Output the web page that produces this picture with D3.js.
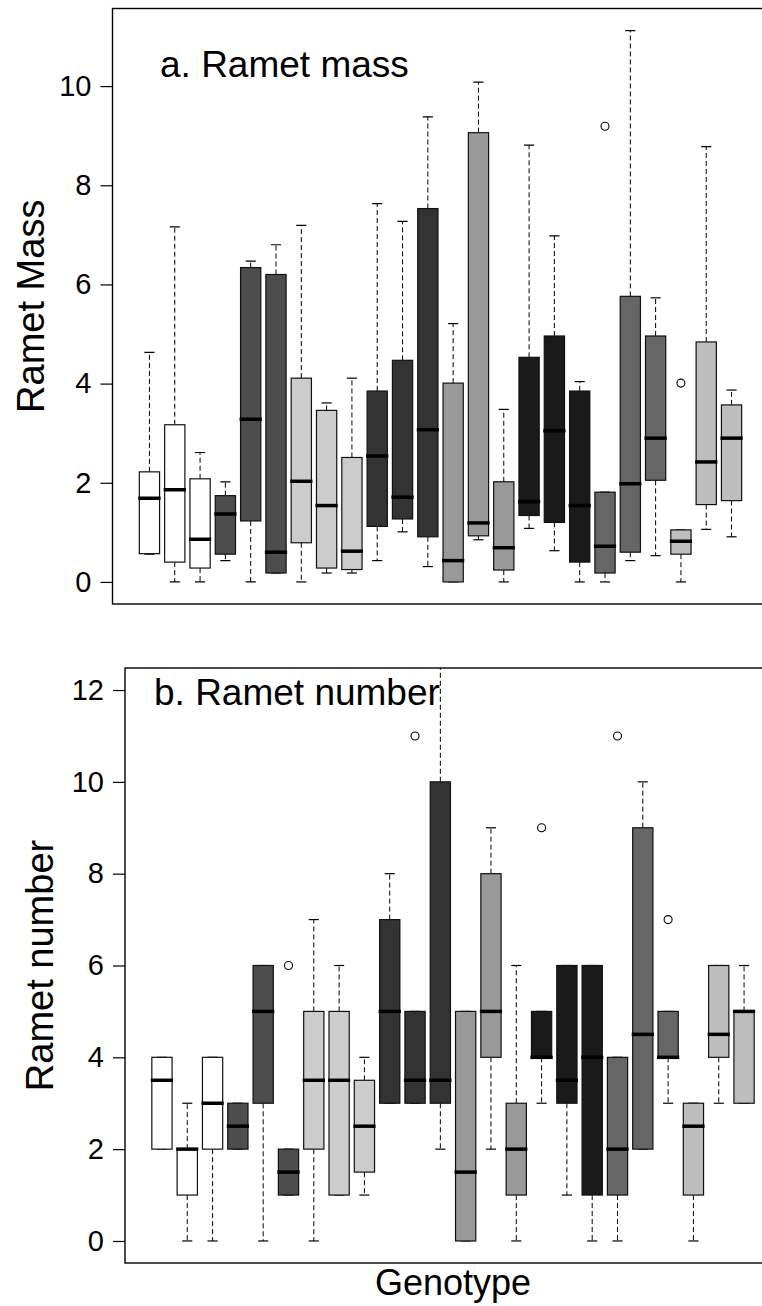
<!DOCTYPE html>
<html>
<head>
<meta charset="utf-8">
<script src="https://cdn.jsdelivr.net/npm/d3@7"></script>
<style>
  html, body { margin: 0; padding: 0; background: #fff; }
  svg { display: block; font-family: "Liberation Sans", Arial, sans-serif; }
</style>
</head>
<body>
<svg id="chart" width="762" height="1306"></svg>
<script>
// ---------- data ----------
const genotypes = d3.range(1, 25);
const fills = ["#ffffff","#ffffff","#ffffff","#4d4d4d","#4d4d4d","#4d4d4d",
               "#cccccc","#cccccc","#cccccc","#333333","#333333","#333333",
               "#999999","#999999","#999999","#1a1a1a","#1a1a1a","#1a1a1a",
               "#666666","#666666","#666666","#bebebe","#bebebe","#bebebe"];

// Panel a: Ramet mass
const massLow  = [0.56,0,0,0.43,0,0.18,0,0.18,0.18,0.43,1.01,0.31,0,0.85,0,1.08,0.63,0,0,0.43,0.53,0,1.06,0.91];
const massQ1   = [0.57,0.40,0.28,0.56,1.23,0.18,0.79,0.28,0.25,1.12,1.27,0.91,0,0.93,0.24,1.34,1.20,0.40,0.18,0.60,2.05,0.56,1.56,1.64];
const massMed  = [1.69,1.86,0.86,1.37,3.28,0.60,2.03,1.54,0.62,2.54,1.71,3.07,0.43,1.19,0.69,1.62,3.05,1.54,0.72,1.98,2.90,0.82,2.42,2.90];
const massQ3   = [2.22,3.17,2.08,1.74,6.34,6.20,4.11,3.46,2.51,3.85,4.47,7.53,4.01,9.06,2.02,4.53,4.96,3.85,1.81,5.76,4.96,1.05,4.84,3.57];
const massHigh = [4.63,7.16,2.61,2.02,6.47,6.80,7.19,3.61,4.11,7.63,7.27,9.38,5.21,10.08,3.48,8.81,6.98,4.04,1.81,11.12,5.73,1.05,8.78,3.87];
const massOutG = [19, 22];
const massOutV = [9.19, 4.01];
const massTicks = [0, 2, 4, 6, 8, 10];

// Panel b: Ramet number
const numLow  = [2,0,0,2,0,1,0,1,1,3,3,2,0,2,0,3,1,0,0,2,3,0,3,3];
const numQ1   = [2,1,2,2,3,1,2,1,1.5,3,3,3,0,4,1,4,3,1,1,2,4,1,4,3];
const numMed  = [3.5,2,3,2.5,5,1.5,3.5,3.5,2.5,5,3.5,3.5,1.5,5,2,4,3.5,4,2,4.5,4,2.5,4.5,5];
const numQ3   = [4,2,4,3,6,2,5,5,3.5,7,5,10,5,8,3,5,6,6,4,9,5,3,6,5];
const numHigh = [4,3,4,3,6,2,7,6,4,8,5,13,5,9,6,5,6,6,4,10,5,3,6,6];
const numOutG = [6, 11, 16, 19, 21];
const numOutV = [6, 11, 9, 11, 7];
const numTicks = [0, 2, 4, 6, 8, 10, 12];

// ---------- drawing ----------
const svg = d3.select("#chart");

function panel(cfg) {
  const { id, left, right, top, bottom, yDom, low, q1, med, q3, high, outG, outV, ticks,
          title, titleX, titleY, ylab, ylabX } = cfg;
  const n = genotypes.length;
  const pad = 0.04 * n;
  const x = d3.scaleLinear().domain([0.5 - pad, n + 0.5 + pad]).range([left, right]);
  const y = d3.scaleLinear().domain(yDom).range([bottom, top]);
  const bw = (x(1.8) - x(1)) ;       // box width 0.8 units
  const sw = bw / 2;                  // staple width

  const g = svg.append("g");
  svg.append("defs").append("clipPath").attr("id", "clip-" + id)
    .append("rect").attr("x", left).attr("y", top).attr("width", right - left).attr("height", bottom - top);

  const plot = g.append("g").attr("clip-path", `url(#clip-${id})`);

  genotypes.forEach((gt, i) => {
    const cx = x(gt);
    const gg = plot.append("g");
    // whiskers
    if (high[i] > q3[i]) {
      gg.append("line").attr("x1", cx).attr("x2", cx).attr("y1", y(q3[i])).attr("y2", y(high[i]))
        .attr("stroke", "#000").attr("stroke-width", 1).attr("stroke-dasharray", "5,3");
    }
    if (low[i] < q1[i]) {
      gg.append("line").attr("x1", cx).attr("x2", cx).attr("y1", y(q1[i])).attr("y2", y(low[i]))
        .attr("stroke", "#000").attr("stroke-width", 1).attr("stroke-dasharray", "5,3");
    }
    // staples
    [high[i], low[i]].forEach(v => {
      gg.append("line").attr("x1", cx - sw / 2).attr("x2", cx + sw / 2).attr("y1", y(v)).attr("y2", y(v))
        .attr("stroke", "#000").attr("stroke-width", 1.2);
    });
    // box
    gg.append("rect").attr("x", cx - bw / 2).attr("width", bw)
      .attr("y", y(q3[i])).attr("height", Math.max(0.5, y(q1[i]) - y(q3[i])))
      .attr("fill", fills[i]).attr("stroke", "#111").attr("stroke-width", 1.2);
    // median
    gg.append("line").attr("x1", cx - bw / 2 - 1).attr("x2", cx + bw / 2 + 1)
      .attr("y1", y(med[i])).attr("y2", y(med[i]))
      .attr("stroke", "#000").attr("stroke-width", 3.5);
  });

  // outliers
  plot.selectAll("circle.out").data(outG.map((gt, k) => ({ gt, v: outV[k] })))
    .enter().append("circle").attr("class", "out")
    .attr("cx", d => x(d.gt)).attr("cy", d => y(d.v)).attr("r", 4)
    .attr("fill", "none").attr("stroke", "#000").attr("stroke-width", 1.1);

  // frame
  g.append("rect").attr("x", left).attr("y", top).attr("width", right - left).attr("height", bottom - top)
    .attr("fill", "none").attr("stroke", "#000").attr("stroke-width", 1.4);

  // y axis
  const axis = d3.axisLeft(y).tickValues(ticks).tickSize(12).tickPadding(9).tickFormat(d3.format("d"));
  const ag = g.append("g").attr("transform", `translate(${left},0)`).call(axis);
  ag.select(".domain").remove();
  ag.selectAll(".tick line").attr("stroke", "#000").attr("stroke-width", 1.2);
  ag.selectAll(".tick text").attr("font-size", 29).attr("fill", "#000")
    .attr("font-family", "'Liberation Sans', Arial, sans-serif");

  // title
  g.append("text").attr("x", titleX).attr("y", titleY).attr("font-size", 37).attr("fill", "#000")
    .text(title);

  // y label
  g.append("text").attr("transform", `translate(${ylabX},${(top + bottom) / 2}) rotate(-90)`)
    .attr("text-anchor", "middle").attr("font-size", 38).attr("fill", "#000").text(ylab);

  return { x, y };
}

panel({
  id: "a", left: 112.5, right: 768.5, top: 8.5, bottom: 604,
  yDom: [-0.445, 11.565],
  low: massLow, q1: massQ1, med: massMed, q3: massQ3, high: massHigh,
  outG: massOutG, outV: massOutV, ticks: massTicks,
  title: "a. Ramet mass", titleX: 160, titleY: 77,
  ylab: "Ramet Mass", ylabX: 44
});

panel({
  id: "b", left: 125, right: 781, top: 668, bottom: 1263,
  yDom: [-0.48, 12.48],
  low: numLow, q1: numQ1, med: numMed, q3: numQ3, high: numHigh,
  outG: numOutG, outV: numOutV, ticks: numTicks,
  title: "b. Ramet number", titleX: 154, titleY: 705,
  ylab: "Ramet number", ylabX: 53
});

svg.append("text").attr("x", 453).attr("y", 1295).attr("text-anchor", "middle")
  .attr("font-size", 36).attr("fill", "#000").text("Genotype");
</script>
</body>
</html>
